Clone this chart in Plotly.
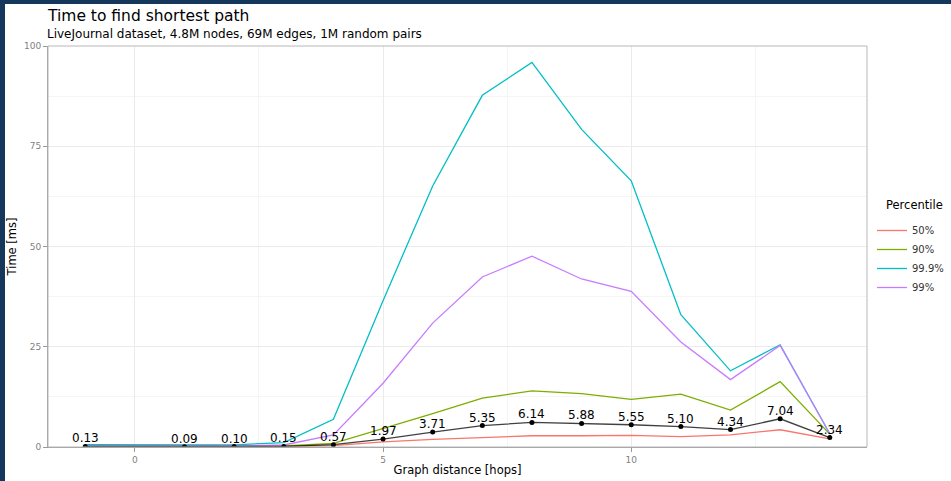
import plotly.graph_objects as go

hops = [-1, 1, 2, 3, 4, 5, 6, 7, 8, 9, 10, 11, 12, 13, 14]
mean_ms = [0.13, 0.09, 0.10, 0.15, 0.57, 1.97, 3.71, 5.35, 6.14, 5.88, 5.55, 5.10, 4.34, 7.04, 2.34]
p50 = [0.10, 0.08, 0.09, 0.12, 0.35, 1.3, 1.9, 2.4, 2.8, 2.8, 2.9, 2.6, 3.0, 4.3, 2.0]
p90 = [0.20, 0.15, 0.16, 0.25, 0.9, 4.6, 8.3, 12.2, 14.0, 13.3, 11.9, 13.2, 9.2, 16.3, 3.2]
p99 = [0.30, 0.25, 0.25, 0.5, 3.0, 15.9, 30.9, 42.4, 47.6, 41.9, 38.8, 26.2, 16.8, 25.3, 3.3]
p999 = [0.60, 0.55, 0.55, 1.1, 6.9, 36.5, 65.1, 87.7, 95.9, 79.2, 66.4, 33.0, 19.0, 25.5, 3.3]

series = [("50%", p50, "#F8766D"), ("90%", p90, "#7CAE00"),
          ("99.9%", p999, "#00BFC4"), ("99%", p99, "#C77CFF")]

W, H = 951, 481
ML, MR, MT, MB = 48, 84, 46, 34
PW, PH = W - ML - MR, H - MT - MB
FONT = "DejaVu Sans"

fig = go.Figure()
for name, vals, col in series:
    fig.add_trace(go.Scatter(x=hops, y=vals, mode="lines", name=name,
                             line=dict(color=col, width=1.3)))
fig.add_trace(go.Scatter(x=hops, y=mean_ms, mode="lines+markers",
                         showlegend=False,
                         line=dict(color="rgba(0,0,0,0.75)", width=1.3),
                         marker=dict(color="black", size=5)))

def px(xp):
    return (xp - ML) / PW

def py(yp):
    return (H - MB - yp) / PH

shapes = [
    dict(type="rect", xref="paper", yref="paper", x0=0, x1=1, y0=0, y1=1,
         line=dict(color="#b8b8b8", width=1), layer="above"),
    dict(type="rect", xref="paper", yref="paper", x0=px(0), x1=px(5), y0=py(H), y1=py(0),
         fillcolor="#15375c", line=dict(width=0)),
    dict(type="rect", xref="paper", yref="paper", x0=px(0), x1=px(W), y0=py(4), y1=py(0),
         fillcolor="#15375c", line=dict(width=0)),
]

annotations = [
    dict(text="Time to find shortest path", xref="paper", yref="paper",
         x=px(45), y=py(16), xanchor="left", yanchor="middle", showarrow=False,
         font=dict(family=FONT, size=15.5, color="black")),
    dict(text="LiveJournal dataset, 4.8M nodes, 69M edges, 1M random pairs", xref="paper", yref="paper",
         x=px(45), y=py(34), xanchor="left", yanchor="middle", showarrow=False,
         font=dict(family=FONT, size=12, color="black")),
    dict(text="Percentile", xref="paper", yref="paper",
         x=px(884), y=py(205), xanchor="left", yanchor="middle", showarrow=False,
         font=dict(family=FONT, size=11.5, color="black")),
]
for xv, yv in zip(hops, mean_ms):
    annotations.append(dict(x=xv, y=yv, xref="x", yref="y", text=f"{yv:.2f}",
                            showarrow=False, xanchor="center", yanchor="middle",
                            yshift=8, font=dict(family=FONT, size=12, color="black")))

axis_common = dict(showline=True, linecolor="#999999", linewidth=1,
                   ticks="outside", ticklen=4, tickcolor="#999999",
                   tickfont=dict(family=FONT, size=9, color="#7f7f7f"),
                   gridcolor="#ebebeb", gridwidth=1, zeroline=False,
                   automargin=False)

fig.update_layout(
    width=W, height=H,
    margin=dict(l=ML, r=MR, t=MT, b=MB, pad=0, autoexpand=False),
    paper_bgcolor="white", plot_bgcolor="white",
    font=dict(family=FONT, color="black"),
    shapes=shapes, annotations=annotations,
    xaxis=dict(range=[-1.75, 14.75], tickvals=[0, 5, 10],
               minor=dict(tickvals=[2.5, 7.5, 12.5], showgrid=True, gridcolor="#f5f5f5", gridwidth=0.6, ticks=""),
               title=dict(text="Graph distance [hops]", font=dict(family=FONT, size=11.5), standoff=2),
               **axis_common),
    yaxis=dict(range=[0, 100], tickvals=[0, 25, 50, 75, 100],
               minor=dict(tickvals=[12.5, 37.5, 62.5, 87.5], showgrid=True, gridcolor="#f5f5f5", gridwidth=0.6, ticks=""),
               title=dict(text="Time [ms]", font=dict(family=FONT, size=11.5), standoff=4),
               **axis_common),
    legend=dict(font=dict(family=FONT, size=10, color="#333333"),
                x=px(872), y=py(216), xanchor="left", yanchor="top",
                itemwidth=30, bgcolor="rgba(0,0,0,0)"),
)

fig.write_html("out.html")
